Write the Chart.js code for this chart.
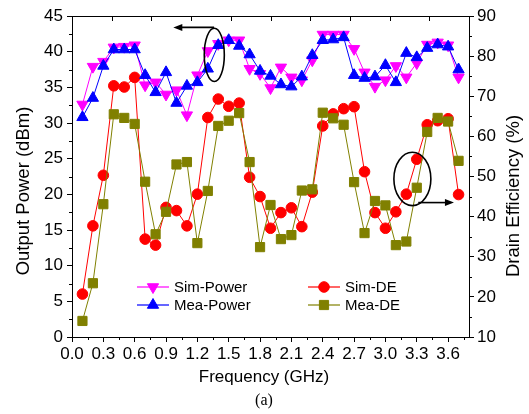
<!DOCTYPE html>
<html><head><meta charset="utf-8">
<script src="https://cdn.jsdelivr.net/npm/chart.js@4/dist/chart.umd.min.js"></script>
<style>html,body{margin:0;padding:0;background:#fff;}#wrap{width:529px;height:414px;position:relative;}</style>
</head><body><div id="wrap"><canvas id="c" width="529" height="414"></canvas></div>
<script>
// ---- data ----
const frequency = [0.1,0.2,0.3,0.4,0.5,0.6,0.7,0.8,0.9,1.0,1.1,1.2,1.3,1.4,1.5,1.6,1.7,1.8,1.9,2.0,2.1,2.2,2.3,2.4,2.5,2.6,2.7,2.8,2.9,3.0,3.1,3.2,3.3,3.4,3.5,3.6,3.7];
const simPower = [32.6,37.9,38.6,40.6,40.7,40.9,35.3,35.7,34.0,34.6,31.1,36.7,40.1,41.1,41.6,41.6,37.6,36.9,34.9,37.8,36.4,36.0,38.8,42.4,42.4,42.4,40.4,37.1,35.1,36.0,38.0,36.4,38.4,41.0,41.3,40.9,36.4];
const meaPower = [30.8,33.5,38.0,40.3,40.3,40.3,36.7,34.3,37.1,32.8,35.2,35.7,37.6,40.9,41.6,40.8,39.6,37.3,36.6,35.4,35.1,36.5,39.5,41.6,41.7,42.0,36.7,36.3,36.5,38.1,35.7,39.8,39.2,40.5,41.0,40.7,37.5];
const simDE = [20.7,37.7,50.3,72.6,72.3,74.7,34.4,32.9,42.3,41.5,37.7,45.6,64.7,69.3,67.5,68.3,49.8,45.0,37.1,41.0,42.2,37.5,46.1,62.6,65.6,66.9,67.4,51.2,41.0,37.1,41.2,45.6,54.3,62.9,63.9,64.4,45.5];
const meaDE = [14.0,23.4,43.1,65.5,64.6,63.1,48.7,35.6,41.2,53.0,53.6,33.4,46.4,62.6,63.9,65.8,53.6,32.4,42.9,34.4,35.4,46.5,46.8,65.9,64.5,62.9,48.6,35.9,43.9,42.8,32.9,33.8,47.2,61.1,64.6,63.7,53.9];
const xTicks = [0.0,0.3,0.6,0.9,1.2,1.5,1.8,2.1,2.4,2.7,3.0,3.3,3.6];
const yTicks = [0,5,10,15,20,25,30,35,40,45];
const y1Ticks = [10,20,30,40,50,60,70,80,90];
const seriesNames = ['Sim-Power','Mea-Power','Sim-DE','Mea-DE'];
const xTitle = 'Frequency (GHz)';
const yTitle = 'Output Power (dBm)';
const y1Title = 'Drain Efficiency (%)';
const caption = '(a)';

const FONT = "'Liberation Sans', Arial, sans-serif";
const pts = arr => frequency.map((f, i) => ({x: f, y: arr[i]}));

const decor = {
  id: 'decor',
  afterDraw(chart) {
    const {ctx, chartArea: ca, scales} = chart;
    const sx = scales.x, sy = scales.y, sy1 = scales.y1;
    ctx.save();
    ctx.strokeStyle = '#000';
    ctx.lineWidth = 1;
    ctx.beginPath();
    ctx.moveTo(ca.left, Math.round(ca.top) + 0.5);
    ctx.lineTo(ca.right, Math.round(ca.top) + 0.5);
    ctx.stroke();
    ctx.beginPath();
    for (let i = 1; i < 10; i++) {
      const px = Math.round(ca.left + i * (ca.right - ca.left) / 10) + 0.5;
      ctx.moveTo(px, ca.top); ctx.lineTo(px, ca.top + 5);
    }
    ctx.stroke();
    ctx.beginPath();
    for (let k = 0; k < xTicks.length; k++) {
      const px = Math.round((sx.getPixelForValue(xTicks[k]) + sx.getPixelForValue(xTicks[k] + 0.3)) / 2) + 0.5;
      if (px < ca.right) { ctx.moveTo(px, ca.bottom); ctx.lineTo(px, ca.bottom + 3); }
    }
    for (let k = 0; k < yTicks.length - 1; k++) {
      const py = Math.round((sy.getPixelForValue(yTicks[k]) + sy.getPixelForValue(yTicks[k + 1])) / 2) + 0.5;
      ctx.moveTo(ca.left, py); ctx.lineTo(ca.left - 3, py);
    }
    for (let k = 0; k < y1Ticks.length - 1; k++) {
      const py = Math.round((sy1.getPixelForValue(y1Ticks[k]) + sy1.getPixelForValue(y1Ticks[k + 1])) / 2) + 0.5;
      ctx.moveTo(ca.right, py); ctx.lineTo(ca.right + 3, py);
    }
    ctx.stroke();

    // annotations: ellipses + arrows
    ctx.lineWidth = 1.6;
    const ell = [[sy, 1.362, 39.55, 0.096, 3.74], [sy1, 3.258, 49.4, 0.177, 6.66]];
    ell.forEach(([s, x, y, rx, ry]) => {
      const cx = sx.getPixelForValue(x), cy = s.getPixelForValue(y);
      const prx = Math.abs(sx.getPixelForValue(x + rx) - cx);
      const pry = Math.abs(s.getPixelForValue(y + ry) - cy);
      ctx.beginPath(); ctx.ellipse(cx, cy, prx, pry, 0, 0, Math.PI * 2); ctx.stroke();
    });
    const arr = [[sy, 1.36, 0.97, 43.4], [sy1, 3.314, 3.656, 43.5]];
    ctx.fillStyle = '#000';
    arr.forEach(([s, x0, x1, y]) => {
      const p0 = sx.getPixelForValue(x0), p1 = sx.getPixelForValue(x1), py = s.getPixelForValue(y);
      const dir = Math.sign(p1 - p0);
      ctx.beginPath(); ctx.moveTo(p0, py); ctx.lineTo(p1 - dir * 6, py); ctx.stroke();
      ctx.beginPath(); ctx.moveTo(p1, py); ctx.lineTo(p1 - dir * 9, py - 3.5); ctx.lineTo(p1 - dir * 9, py + 3.5); ctx.closePath(); ctx.fill();
    });

    // legend (2 x 2)
    const ds = chart.data.datasets;
    const spots = [[137, 287], [137, 305], [308, 287], [308, 305]];
    ctx.font = '15px ' + FONT;
    ctx.textBaseline = 'middle';
    ctx.textAlign = 'left';
    spots.forEach(([lx, ly], i) => {
      const d = ds[i];
      ctx.strokeStyle = d.borderColor; ctx.lineWidth = 1.2;
      ctx.beginPath(); ctx.moveTo(lx, ly); ctx.lineTo(lx + 32, ly); ctx.stroke();
      ctx.fillStyle = d.backgroundColor; ctx.strokeStyle = d.borderColor; ctx.lineWidth = 1;
      Chart.helpers.drawPoint(ctx, {pointStyle: d.pointStyle, rotation: d.pointRotation || 0, radius: d.pointRadius, borderWidth: 1}, lx + 16, ly);
      ctx.fillStyle = '#000';
      ctx.fillText(d.label, lx + 37, ly + 1);
    });

    // titles
    ctx.fillStyle = '#000';
    ctx.textAlign = 'center';
    ctx.font = '17px ' + FONT;
    ctx.fillText(xTitle, 264, 377);
    ctx.font = '18.5px ' + FONT;
    ctx.save(); ctx.translate(24, 191); ctx.rotate(-Math.PI / 2); ctx.fillText(yTitle, 0, 0); ctx.restore();
    ctx.save(); ctx.translate(514, 196); ctx.rotate(-Math.PI / 2); ctx.fillText(y1Title, 0, 0); ctx.restore();
    ctx.font = "16px 'Liberation Serif', 'Times New Roman', serif";
    ctx.fillText(caption, 264, 401);
    ctx.restore();
  }
};

const tickFont = {family: FONT, size: 17};
const axisCommon = {
  grid: {display: true, drawOnChartArea: false, drawTicks: true, tickLength: 5, tickColor: '#000', tickWidth: 1},
  border: {display: true, color: '#000', width: 1}
};
const setTicks = vals => (s => { s.ticks = vals.map(v => ({value: v})); });

new Chart(document.getElementById('c'), {
  type: 'scatter',
  data: {
    datasets: [
      {label: seriesNames[0], data: pts(simPower), yAxisID: 'y', showLine: true, borderColor: '#FF00FF', backgroundColor: '#FF00FF', borderWidth: 1, pointStyle: 'triangle', pointRotation: 180, pointRadius: 6.5, pointBorderWidth: 1, order: 4},
      {label: seriesNames[1], data: pts(meaPower), yAxisID: 'y', showLine: true, borderColor: '#0000FF', backgroundColor: '#0000FF', borderWidth: 1, pointStyle: 'triangle', pointRotation: 0, pointRadius: 6.5, pointBorderWidth: 1, order: 1},
      {label: seriesNames[2], data: pts(simDE), yAxisID: 'y1', showLine: true, borderColor: '#FF0000', backgroundColor: '#FF0000', borderWidth: 1, pointStyle: 'circle', pointRadius: 5.3, pointBorderWidth: 1, order: 3},
      {label: seriesNames[3], data: pts(meaDE), yAxisID: 'y1', showLine: true, borderColor: '#808000', backgroundColor: '#808000', borderWidth: 1, pointStyle: 'rect', pointRadius: 6.5, pointBorderWidth: 1, order: 2}
    ]
  },
  options: {
    responsive: false,
    animation: false,
    devicePixelRatio: 1,
    layout: {padding: {top: 16, left: 0, right: 0, bottom: 0}},
    plugins: {legend: {display: false}, tooltip: {enabled: false}},
    scales: {
      x: Object.assign({}, axisCommon, {
        type: 'linear', position: 'bottom', min: 0, max: 3.8,
        ticks: {autoSkip: false, maxRotation: 0, color: '#000', font: tickFont, padding: 2, callback: v => Number(v).toFixed(1)},
        afterBuildTicks: setTicks(xTicks),
        afterFit(s) { s.height = 77; }
      }),
      y: Object.assign({}, axisCommon, {
        type: 'linear', position: 'left', min: 0, max: 45,
        ticks: {color: '#000', font: tickFont, padding: 4},
        afterBuildTicks: setTicks(yTicks),
        afterFit(s) { s.width = 72; }
      }),
      y1: Object.assign({}, axisCommon, {
        type: 'linear', position: 'right', min: 10, max: 90,
        ticks: {color: '#000', font: tickFont, padding: 3},
        afterBuildTicks: setTicks(y1Ticks),
        afterFit(s) { s.width = 60; }
      })
    }
  },
  plugins: [decor]
});
</script></body></html>
